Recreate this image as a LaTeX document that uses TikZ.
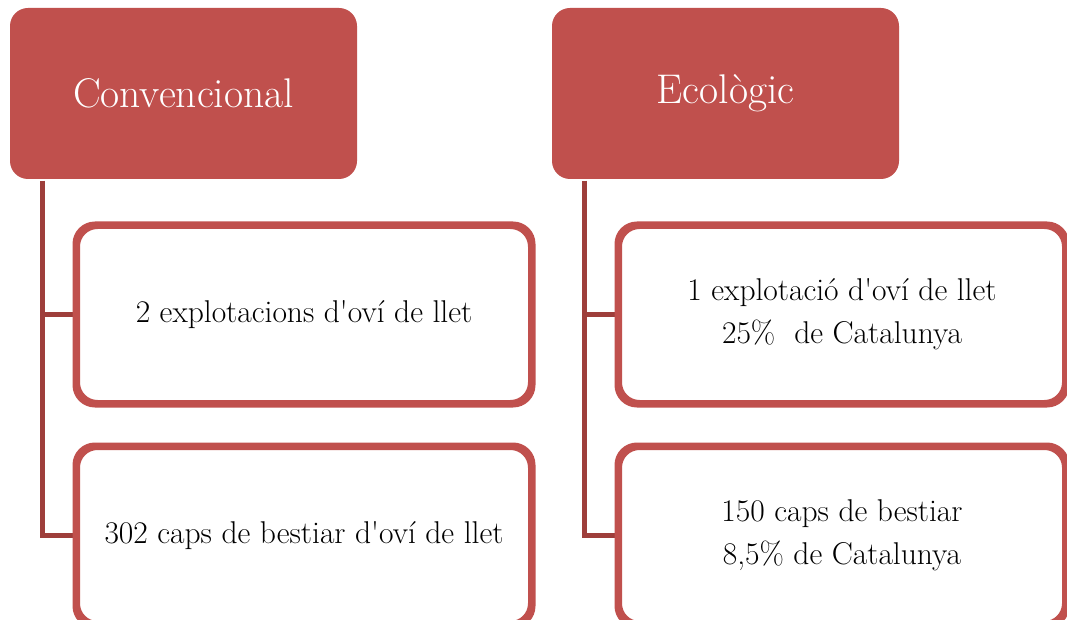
\documentclass[tikz,border=0pt]{standalone}
\usepackage{tikz}
\usepackage{textcomp}
\definecolor{hdr}{HTML}{C0504D}
\definecolor{conn}{HTML}{9E3E3B}
\newcommand{\apos}{\textquotesingle}
\tikzset{
  header/.style={fill=hdr, draw=none, rounded corners=18pt, text=white, font=\fontsize{41.5}{48}\selectfont},
  child/.style={draw=hdr, line width=5pt, fill=white, rounded corners=20pt, align=center, font=\fontsize{31.5}{43}\selectfont},
  connline/.style={draw=conn, line width=5pt},
  border/.style={draw=hdr, line width=5pt, rounded corners=20pt}
}
\begin{document}
\begin{tikzpicture}[x=1pt,y=-1pt]
\useasboundingbox (0,0) rectangle (1067,620);
% headers
\node[header, minimum width=347pt, minimum height=171pt] (h1) at (183.5,93.5) {Convencional};
\node[header, minimum width=347pt, minimum height=171pt] (h2) at (725.5,93.5) {Ecològic};
\coordinate (s1) at (42.5,181);
\coordinate (s2) at (584.5,181);
% child boxes
\node[child, minimum width=453pt, minimum height=176pt] (c1) at (304,314.5) {2 explotacions d\apos oví de llet};
\node[child, minimum width=453pt, minimum height=176pt] (c2) at (304,535.5) {302 caps de bestiar d\apos oví de llet};
\node[child, minimum width=445pt, minimum height=176pt] (c3) at (842,314.5) {1 explotació d\apos oví de llet\\25\%\ \ de Catalunya};
\node[child, minimum width=445pt, minimum height=176pt] (c4) at (842,535.5) {150 caps de bestiar\\8,5\% de Catalunya};
% connectors
\draw[connline] (s1) |- (c1.west);
\draw[connline] (s1) |- (c2.west);
\draw[connline] (s2) |- (c3.west);
\draw[connline] (s2) |- (c4.west);
% redraw box borders over connector ends
\draw[border] (c1.north west) rectangle (c1.south east);
\draw[border] (c2.north west) rectangle (c2.south east);
\draw[border] (c3.north west) rectangle (c3.south east);
\draw[border] (c4.north west) rectangle (c4.south east);
\end{tikzpicture}
\end{document}
